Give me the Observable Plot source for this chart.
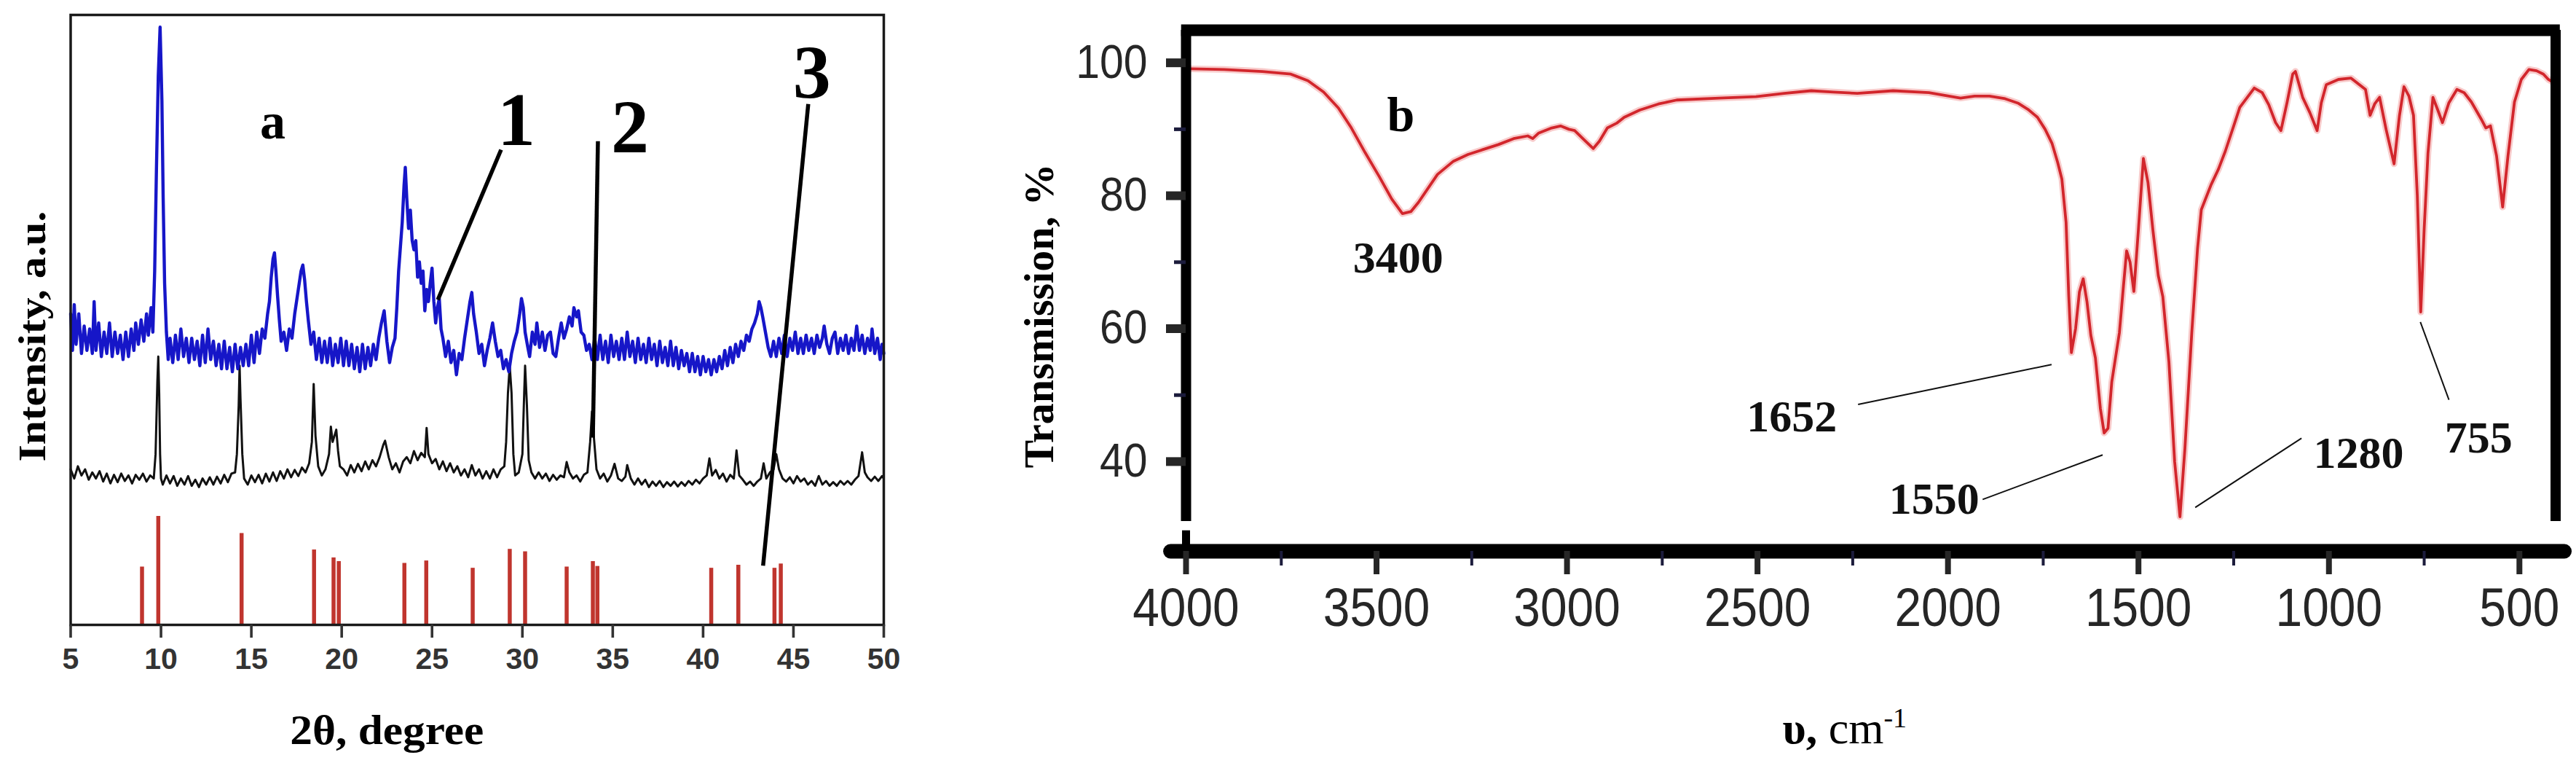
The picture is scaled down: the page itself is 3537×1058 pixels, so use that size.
<!DOCTYPE html>
<html><head><meta charset="utf-8">
<script src="https://cdn.jsdelivr.net/npm/d3@7"></script>
<script src="https://cdn.jsdelivr.net/npm/@observablehq/plot@0.6"></script>
<style>
html,body{margin:0;padding:0;background:#fff;}
#root{position:relative;width:3537px;height:1058px;background:#fff;overflow:hidden;}
#root svg{position:absolute;top:0;}
</style></head><body><div id="root"></div>
<script>
// ---------- Panel a : XRD ----------
const xTicksA = [5,10,15,20,25,30,35,40,45,50];
// pattern 1 (blue): [2theta, intensity]
const bluePattern = [
[5.0,51],[5.1,45],[5.2,52.5],[5.3,46],[5.45,51],[5.6,44.5],[5.75,49],[5.9,45],[6.05,48.5],[6.2,44.5],[6.3,53],[6.4,45],[6.55,49.5],[6.7,44],[6.85,48],[7.0,44.5],[7.15,49.5],[7.3,44],[7.45,48],[7.6,44.5],[7.75,47.5],[7.9,43.5],[8.05,48],[8.2,44],[8.35,48.5],[8.5,45],[8.6,49.5],[8.75,46],[8.9,50],[9.05,46.5],[9.2,51],[9.3,47.5],[9.45,52],[9.55,48],[9.65,58],[9.75,75],[9.85,90],[9.95,98],[10.05,86],[10.12,70],[10.2,56],[10.3,48],[10.4,43.5],[10.5,47],
[10.65,43],[10.8,47.5],[10.95,43.5],[11.1,48.5],[11.25,44],[11.4,47],[11.55,43],[11.7,47],[11.85,43.5],[12.0,46.5],[12.15,42.5],[12.3,47.5],[12.45,43],[12.6,48.5],[12.75,43.5],[12.9,46.5],[13.05,42.5],[13.2,46],[13.35,42],[13.5,46.5],[13.65,42],[13.8,45.5],[13.95,41.5],[14.1,46],[14.25,42],[14.4,45.5],[14.55,42.5],[14.7,46],[14.85,42.5],[15.0,47.5],[15.15,43],[15.3,48],[15.45,44.5],[15.6,48.5],[15.75,47],[15.9,51],[16.0,53],[16.1,57],[16.2,60],[16.28,61],[16.36,58],[16.45,54],[16.55,50],[16.65,46.5],[16.8,48],[16.95,45],[17.1,48.5],[17.25,47],[17.4,51],[17.55,54],[17.65,56],[17.75,58],[17.85,59],[17.95,56.5],[18.05,53],[18.15,50],[18.3,46],[18.45,48],[18.6,43.5],[18.75,47],[18.9,43],[19.05,46.5],[19.2,43],[19.35,47],[19.5,42.5],[19.65,46],[19.8,43],[19.95,47],[20.1,42.5],[20.25,46.5],[20.4,42.5],[20.55,46],[20.7,42],[20.85,45.5],[21.0,41.5],[21.15,46],[21.3,42],[21.45,45.5],[21.6,42.5],[21.75,46],[21.9,43.5],[22.05,47],[22.2,49.5],[22.35,51.5],[22.5,46.5],[22.65,43],[22.8,45.5],[22.95,47],[23.05,52],[23.15,58],[23.25,62],[23.35,66],[23.45,72],[23.52,75],[23.6,70],[23.7,65],[23.8,68],[23.9,63],[24.0,61.5],[24.1,63],[24.2,57],[24.3,59.5],[24.4,56],[24.5,58],[24.6,51.5],[24.7,55],[24.8,53],[24.9,56],[25.0,58.5],[25.1,53],[25.2,49.5],[25.3,52],[25.4,53.5],[25.5,48.5],[25.6,47],[25.75,44],[25.9,46.5],[26.05,43],[26.2,45],[26.35,41],[26.5,44.5],[26.65,43.5],[26.8,47],[26.95,50],[27.1,53],[27.2,54.5],[27.3,51],[27.45,48],[27.6,44.5],[27.75,46],[27.9,42.5],[28.05,45],[28.2,47],[28.35,49.5],[28.5,46.5],[28.65,44],[28.8,45],[28.95,42],[29.1,43.5],[29.25,41.5],[29.4,44.5],[29.55,46.5],[29.7,48],[29.85,51],[29.95,53.5],[30.05,52],[30.15,48],[30.3,45.5],[30.4,44],[30.55,48],[30.7,46],[30.8,49.5],[30.95,45.5],[31.1,48],[31.25,45],[31.4,47.5],[31.55,48],[31.7,44.5],[31.85,44],[32.0,47],[32.15,49.5],[32.3,47],[32.45,48.5],[32.6,50.5],[32.75,49],[32.85,52],[33.0,50.5],[33.1,51.5],[33.25,48],[33.4,47.5],[33.55,45],[33.7,46],[33.85,43.5],[34.0,47],[34.15,43.5],[34.3,47.5],[34.45,43.5],[34.6,46.5],[34.75,43],[34.9,47.5],[35.05,44],[35.2,46.5],[35.35,43.5],[35.5,47],[35.65,43.5],[35.8,48],[35.95,44],[36.1,46.5],[36.25,43],[36.4,47],[36.55,43.5],[36.7,46],[36.85,43],[37.0,47],[37.15,43.5],[37.3,46],[37.45,42.5],[37.6,46.5],[37.75,43],[37.9,45.5],[38.05,42.5],[38.2,46.5],[38.35,42.5],[38.5,45.5],[38.65,42],[38.8,45],[38.95,42.5],[39.1,44.5],[39.25,41.5],[39.4,44.5],[39.55,41.5],[39.7,44],[39.85,41],[40.0,44],[40.15,41.5],[40.3,43.5],[40.45,41],[40.6,43.5],[40.75,41.5],[40.9,44],[41.05,42],[41.2,45],[41.35,42.5],[41.5,45.5],[41.65,43],[41.8,46],[41.95,44],[42.1,46.5],[42.25,45],[42.4,47.5],[42.55,46.5],[42.7,48.5],[42.85,49.5],[43.0,51],[43.1,53],[43.2,52],[43.3,50.5],[43.45,48],[43.6,45.5],[43.75,44],[43.9,46.5],[44.05,44],[44.2,47],[44.35,44.5],[44.5,47.5],[44.65,44],[44.8,47],[44.95,45],[45.1,48],[45.25,44.5],[45.4,47],[45.55,44.5],[45.7,47.5],[45.85,45],[46.0,47],[46.15,44.5],[46.3,47.5],[46.45,45.5],[46.6,47],[46.7,49],[46.85,46],[47.0,44.5],[47.15,47],[47.3,48],[47.45,44.5],[47.6,47],[47.75,45],[47.9,47.5],[48.05,44.5],[48.2,47],[48.35,45],[48.5,49],[48.65,45],[48.8,47.5],[48.95,44.5],[49.1,47],[49.25,45],[49.35,48.5],[49.5,44.5],[49.65,47],[49.8,43.5],[49.9,46],[50.0,44.5]
];
// pattern 2 (black)
const blackPattern = [
[5.0,25.5],[5.2,24],[5.4,26],[5.6,24.5],[5.8,25.5],[6.0,23.8],[6.2,25],[6.4,24],[6.6,25.2],[6.8,23.5],[7.0,24.8],[7.2,23.2],[7.4,24.6],[7.6,23.4],[7.8,24.8],[8.0,23.6],[8.2,24.5],[8.4,23.2],[8.6,24.6],[8.8,23.8],[9.0,24.8],[9.2,23.5],[9.4,24.5],[9.6,24],[9.7,28],[9.8,40],[9.85,44],[9.9,38],[9.95,28],[10.0,24],[10.1,23],[10.3,24.5],[10.5,23.2],[10.7,24.4],[10.9,22.8],[11.1,24],[11.3,23],[11.5,24.4],[11.7,22.8],[11.9,23.8],[12.1,22.6],[12.3,24],[12.5,23],[12.7,24.2],[12.9,23],[13.1,24.3],[13.3,23.2],[13.5,24.6],[13.7,23.4],[13.9,24.8],[14.1,25],[14.2,28],[14.3,36],[14.35,42.5],[14.4,37],[14.5,28],[14.6,24],[14.8,23],[15.0,24.5],[15.2,23.4],[15.4,24.6],[15.6,23.2],[15.8,24.8],[16.0,23.5],[16.2,25],[16.4,23.6],[16.6,25.2],[16.8,24],[17.0,25.5],[17.2,24.2],[17.4,25.4],[17.6,24.4],[17.8,25.8],[18.0,25],[18.2,26.5],[18.35,30],[18.45,39.5],[18.55,31],[18.7,26],[18.9,24.5],[19.1,25.5],[19.3,28],[19.4,32.5],[19.5,30],[19.6,31],[19.7,32],[19.8,28.5],[19.9,26],[20.1,25.5],[20.3,24.5],[20.5,26.2],[20.7,25],[20.9,26.4],[21.1,25.2],[21.3,26.8],[21.5,25.5],[21.7,27],[21.9,26],[22.1,27.5],[22.3,29.5],[22.4,30.2],[22.6,27.5],[22.8,25.5],[23.0,26.5],[23.2,25],[23.4,26.8],[23.6,27.5],[23.8,26.5],[24.0,28.5],[24.2,27],[24.4,28.2],[24.6,27.5],[24.7,32.3],[24.8,28],[25.0,26.5],[25.2,27.2],[25.4,25.5],[25.6,26.8],[25.8,25.2],[26.0,26.5],[26.2,25],[26.4,26],[26.6,24.5],[26.8,25.5],[27.0,24.2],[27.2,26.2],[27.4,24.5],[27.6,25.5],[27.8,24],[28.0,25.2],[28.2,24],[28.4,25.5],[28.6,24.2],[28.8,25.5],[29.0,26],[29.1,30],[29.2,38],[29.3,42.5],[29.4,38],[29.5,28],[29.6,24.5],[29.8,25],[30.0,28],[30.1,38],[30.15,42.5],[30.25,36],[30.35,27],[30.5,25],[30.7,24],[30.9,25],[31.1,24],[31.3,24.8],[31.5,23.6],[31.7,24.6],[31.9,23.8],[32.1,24.5],[32.3,24.2],[32.45,26.7],[32.6,25],[32.8,24],[33.0,24.5],[33.2,23.5],[33.4,24.6],[33.6,25],[33.75,30],[33.85,35],[33.95,31],[34.1,25.5],[34.3,24],[34.5,24.8],[34.7,23.5],[34.9,24.5],[35.1,26.4],[35.3,24],[35.5,23.6],[35.7,24.3],[35.8,26.2],[36.0,24],[36.2,23],[36.4,24],[36.6,23],[36.8,23.8],[37.0,22.6],[37.2,23.5],[37.4,22.8],[37.6,23.6],[37.8,22.6],[38.0,23.4],[38.2,22.8],[38.4,23.5],[38.6,22.7],[38.8,23.4],[39.0,22.8],[39.2,23.6],[39.4,23],[39.6,23.8],[39.8,23.2],[40.0,24],[40.2,24.5],[40.35,27.3],[40.5,24.5],[40.7,25.4],[40.9,24],[41.1,24.8],[41.3,23.5],[41.5,24.6],[41.7,24],[41.85,28.6],[42.0,24.5],[42.2,23.8],[42.4,23],[42.6,23.5],[42.8,22.8],[43.0,23.5],[43.2,24],[43.35,26.5],[43.5,24],[43.7,25],[43.9,25.5],[44.05,28],[44.2,25.5],[44.4,24],[44.6,23.5],[44.8,24.2],[45.0,23.2],[45.2,24.4],[45.4,23.5],[45.6,24],[45.8,23],[46.0,23.6],[46.2,22.8],[46.4,24.4],[46.6,23],[46.8,23.6],[47.0,22.8],[47.2,23.4],[47.4,22.8],[47.6,23.6],[47.8,23],[48.0,23.6],[48.2,23],[48.4,23.8],[48.6,24.4],[48.8,28.3],[48.95,25],[49.1,24.2],[49.3,23.6],[49.5,24.3],[49.7,23.6],[49.9,24.4],[50.0,24]
];
// reference card (red sticks): position, relative intensity
const stickPos = [8.95,9.85,14.46,18.47,19.55,19.84,23.47,24.68,27.25,29.3,30.15,32.45,33.9,34.15,40.45,41.95,43.95,44.3];
const stickInt = [9.5,17.8,15.0,12.3,11.0,10.4,10.1,10.5,9.3,12.4,12.0,9.5,10.4,9.6,9.3,9.8,9.3,10.0];
const curveLabelsA = [{t:29.67,v:82.7,s:"1"},{t:35.95,v:81.5,s:"2"},{t:46.02,v:90.4,s:"3"}];
const leadersA = [{t1:28.82,v1:77.9,t2:25.32,v2:53.3},{t1:34.18,v1:79.3,t2:33.9,v2:30.7},{t1:45.82,v1:85.4,t2:43.32,v2:9.7}];

// ---------- Panel b : FTIR ----------
const xTicksB = [4000,3500,3000,2500,2000,1500,1000,500];
const xMinorB = [3750,3250,2750,2250,1750,1250,750];
const yTicksB = [40,60,80,100];
const yMinorB = [50,70,90];
const ftir = [
[3990,99.1],[3900,99.0],[3800,98.7],[3725,98.3],[3680,97.3],[3639,95.6],[3600,93.2],[3566,90.2],[3530,86.5],[3493,82.9],[3460,79.5],[3432,77.3],[3410,77.6],[3390,79.0],[3371,80.6],[3340,83.2],[3298,85.2],[3260,86.2],[3223,86.9],[3180,87.7],[3140,88.6],[3103,89.0],[3090,88.6],[3075,89.4],[3040,90.2],[3017,90.5],[2995,90.0],[2980,89.8],[2955,88.4],[2931,87.1],[2915,88.2],[2894,90.2],[2870,90.9],[2850,91.8],[2809,92.9],[2760,93.8],[2712,94.4],[2600,94.7],[2504,94.9],[2430,95.4],[2359,95.8],[2300,95.6],[2238,95.4],[2144,95.8],[2050,95.5],[1967,94.7],[1930,95.0],[1891,95.0],[1850,94.6],[1815,93.9],[1790,93.0],[1765,91.8],[1745,90.0],[1727,87.9],[1712,85.0],[1701,82.5],[1690,76],[1683,65],[1676,56.4],[1665,60],[1655,65.5],[1645,67.5],[1635,64],[1625,59],[1613,55.6],[1600,48],[1590,44.3],[1580,45],[1570,52],[1550,59.4],[1540,66],[1531,71.7],[1522,70],[1512,65.6],[1500,75],[1487,85.6],[1475,82],[1462,74.8],[1448,68],[1436,64.8],[1420,55],[1405,40],[1391,31.7],[1378,42],[1360,59.4],[1345,72],[1335,77.9],[1309,81.7],[1290,84],[1272,86.7],[1250,90.5],[1234,93.3],[1196,96.2],[1175,95.5],[1158,93.7],[1140,91],[1126,89.8],[1110,94],[1095,98.3],[1088,98.7],[1069,94.8],[1050,92.5],[1031,89.8],[1020,94],[1007,96.7],[975,97.5],[942,97.7],[904,96.0],[892,92.1],[880,93.8],[867,94.8],[850,90],[829,84.8],[815,92],[803,96.4],[790,95],[778,92.1],[768,80],[759,62.5],[750,75],[740,86.4],[727,94.8],[715,93],[702,91.0],[685,94],[664,96.0],[645,95.5],[626,94.1],[600,91.5],[588,90.2],[576,90.5],[560,86],[544,78.3],[530,86],[513,94.1],[495,97.5],[475,99.0],[455,98.8],[437,98.3],[424,97.5],[410,97.0]
];
const bandLabels = [{v:3443,t:70.6,s:"3400"},{v:2410,t:46.7,s:"1652"},{v:2036,t:34.3,s:"1550"},{v:922,t:41.2,s:"1280"},{v:607,t:43.5,s:"755"}];
const leadersB = [{v1:2236,t1:48.6,v2:1728,t2:54.6},{v1:1909,t1:34.3,v2:1594,t2:41.0},{v1:1351,t1:33.1,v2:1072,t2:43.5},{v1:760,t1:61.0,v2:685,t2:49.3}];

const serif = "'Liberation Serif','Times New Roman',serif";
const sans = "'Liberation Sans',Arial,sans-serif";

const sticks = stickPos.map((t,i)=>({t, h: stickInt[i]}));

const chartA = Plot.plot({
  width: 1260, height: 1058,
  marginLeft: 96.5, marginRight: 47, marginTop: 20, marginBottom: 201,
  x: {domain: [5, 50]},
  y: {domain: [0, 100], axis: null},
  style: {background: "transparent", overflow: "visible"},
  marks: [
    Plot.ruleX(sticks, {x: "t", y1: 0, y2: "h", stroke: "#c0352e", strokeWidth: 5.5}),
    Plot.line(blackPattern, {x: d=>d[0], y: d=>d[1], stroke: "#111", strokeWidth: 3}),
    Plot.line(bluePattern, {x: d=>d[0], y: d=>d[1], stroke: "#1616c8", strokeWidth: 4.4}),
    Plot.link(leadersA, {x1: "t1", y1: "v1", x2: "t2", y2: "v2", stroke: "#000", strokeWidth: 5.5}),
    Plot.text(curveLabelsA, {x: "t", y: "v", text: "s", fontSize: 104, fontWeight: "bold", fontFamily: serif, fill: "#000"}),
    Plot.text(["a"], {x: 16.18, y: 82.4, fontSize: 70, fontWeight: "bold", fontFamily: serif, fill: "#000"}),
    Plot.frame({stroke: "#1a1a1a", strokeWidth: 3.5}),
    Plot.axisX({ticks: xTicksA, tickSize: 18, tickPadding: 13, fontSize: 41, fontWeight: "bold", fontFamily: sans, strokeWidth: 3.6, tickFormat: d=>String(d), label: null, color: "#333"}),
    Plot.text(["2θ, degree"], {frameAnchor: "bottom", textAnchor: "middle", lineAnchor: "middle", dx: -124, dy: 146, fontSize: 56, fontWeight: "bold", fontFamily: serif, fill: "#000"}),
    Plot.text(["Intensity, a.u."], {frameAnchor: "left", textAnchor: "middle", lineAnchor: "middle", dx: -52, dy: 22.5, rotate: -90, fontSize: 52, fontWeight: "bold", fontFamily: serif, fill: "#000"})
  ]
});
chartA.style.left = "0px";

const chartB = Plot.plot({
  width: 2277, height: 1058,
  marginLeft: 368, marginRight: 28.5, marginTop: 41, marginBottom: 302,
  x: {domain: [4000, 405]},
  y: {domain: [26.5, 104.9]},
  style: {background: "transparent", overflow: "visible"},
  marks: [
    Plot.line(ftir, {x: d=>d[0], y: d=>d[1], stroke: "#f2a0a0", strokeWidth: 9, strokeOpacity: 0.55}),
    Plot.line(ftir, {x: d=>d[0], y: d=>d[1], stroke: "#d2262c", strokeWidth: 3.8}),
    Plot.link(leadersB, {x1: "v1", y1: "t1", x2: "v2", y2: "t2", stroke: "#111", strokeWidth: 2}),
    Plot.text(bandLabels, {x: "v", y: "t", text: "s", fontSize: 62, fontWeight: "bold", fontFamily: serif, fill: "#111"}),
    Plot.text(["b"], {x: 3436, y: 92.1, fontSize: 68, fontWeight: "bold", fontFamily: serif, fill: "#000"}),
    Plot.ruleX([4000, 405], {y1: 31, y2: 104.9, stroke: "#000", strokeWidth: 14}),
    Plot.ruleY([104.9], {x1: 4012, x2: 393, stroke: "#000", strokeWidth: 16}),
    Plot.ruleY([26.5], {x1: 4040, x2: 381, stroke: "#000", strokeWidth: 20, strokeLinecap: "round"}),
    Plot.ruleX([4000], {y1: 26.5, y2: 29.6, stroke: "#000", strokeWidth: 11}),
    Plot.axisX({ticks: xTicksB, tickSize: 32, tickPadding: 18, strokeWidth: 8, fontSize: 74, fontFamily: sans, tickFormat: d=>String(d), label: null, color: "#262626"}),
    Plot.axisX({ticks: xMinorB, tickSize: 20, strokeWidth: 4, tickFormat: () => "", label: null, color: "#1c1c3c"}),
    Plot.axisY({ticks: yTicksB, tickSize: 27, tickPadding: 26, strokeWidth: 12, fontSize: 64, fontFamily: sans, tickFormat: d=>String(d), label: null, color: "#262626"}),
    Plot.axisY({ticks: yMinorB, tickSize: 16, strokeWidth: 5, tickFormat: () => "", label: null, color: "#1c1c3c"}),
    Plot.text(["Transmission, %"], {frameAnchor: "left", textAnchor: "middle", lineAnchor: "middle", dx: -201, dy: 34.5, rotate: -90, fontSize: 58, fontWeight: "bold", fontFamily: serif, fill: "#000"}),
    Plot.text(["υ, cm⁻¹"], {frameAnchor: "bottom", textAnchor: "middle", lineAnchor: "middle", dx: -36, dy: 244, fontSize: 62, fontWeight: "bold", fontFamily: serif, fill: "#000"})
  ]
});
chartB.style.left = "1260px";

const root = document.getElementById("root");
root.appendChild(chartA);
root.appendChild(chartB);

// ---- typographic fine-tuning (condensed tick fonts, stretched titles, mixed weights) ----
function condense(svg, selector, f) {
  svg.querySelectorAll(selector).forEach(t => {
    const L = t.getComputedTextLength();
    if (L > 0) { t.setAttribute("textLength", (L * f).toFixed(1)); t.setAttribute("lengthAdjust", "spacingAndGlyphs"); }
  });
}
function fitText(svg, content, len) {
  svg.querySelectorAll("text").forEach(t => {
    if (t.textContent === content) { t.setAttribute("textLength", len); t.setAttribute("lengthAdjust", "spacingAndGlyphs"); }
  });
}
chartA.querySelectorAll('g[aria-label="x-axis tick label"]').forEach(g => g.setAttribute("font-weight", "bold"));
condense(chartB, 'g[aria-label="x-axis tick label"] text', 0.89);
condense(chartB, 'g[aria-label="y-axis tick label"] text', 0.92);
fitText(chartA, "2θ, degree", 266);
fitText(chartA, "Intensity, a.u.", 344);
// x-axis title of panel b: bold "υ," with regular "cm" and a raised "-1"
chartB.querySelectorAll("text").forEach(t => {
  if (t.textContent === "υ, cm⁻¹") {
    const ns = "http://www.w3.org/2000/svg";
    t.textContent = "";
    const a = document.createElementNS(ns, "tspan"); a.textContent = "υ, ";
    const b = document.createElementNS(ns, "tspan"); b.textContent = "cm"; b.setAttribute("font-weight", "normal");
    const c = document.createElementNS(ns, "tspan"); c.textContent = "-1"; c.setAttribute("font-weight", "normal"); c.setAttribute("font-size", "38"); c.setAttribute("dy", "-22");
    t.append(a, b, c);
  }
});
</script>
</body></html>
